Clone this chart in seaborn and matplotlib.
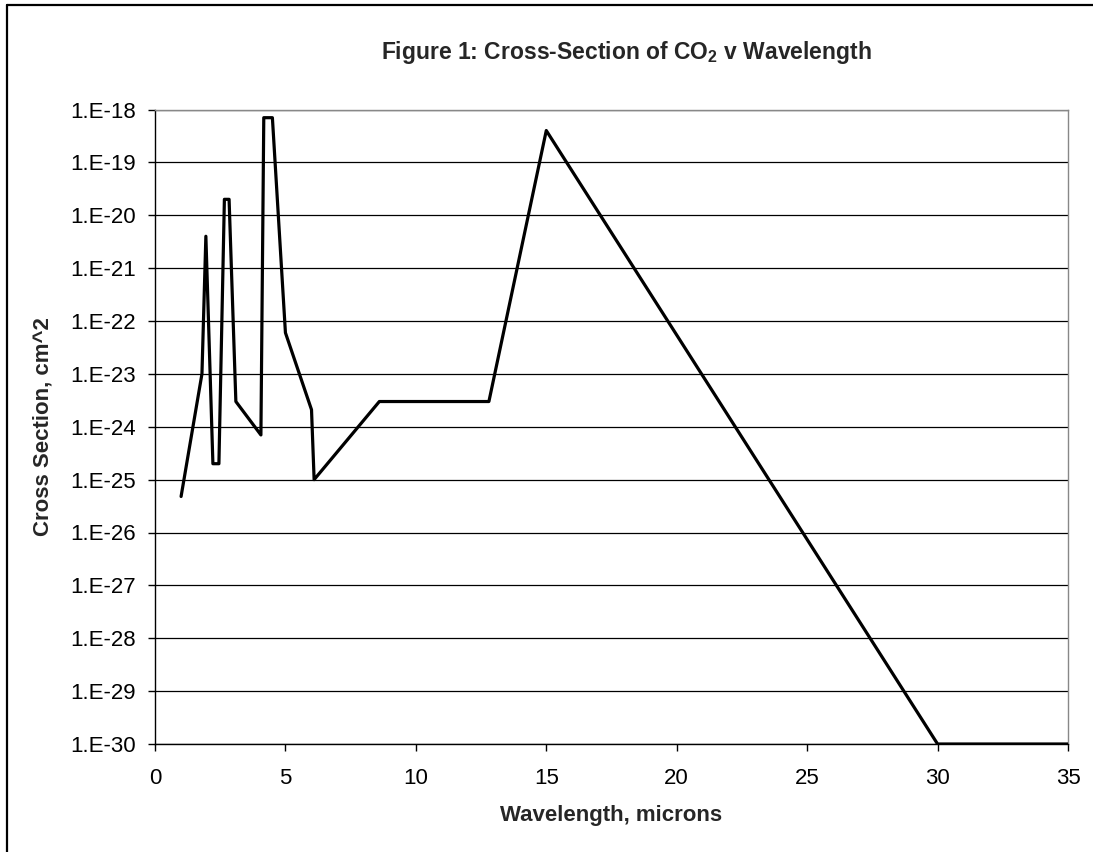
import math
import matplotlib
matplotlib.use("Agg")
import matplotlib.pyplot as plt
import seaborn as sns
import pandas as pd
from matplotlib.ticker import FixedLocator, FuncFormatter, NullLocator
from matplotlib.lines import Line2D

wavelength = [1.0, 1.8, 1.95, 2.22, 2.45, 2.66, 2.84, 3.1, 4.06, 4.17, 4.5,
              5.0, 6.0, 6.1, 8.6, 12.8, 15.0, 30.0, 35.0]
cross_section = [4.8e-26, 1e-23, 4e-21, 2e-25, 2e-25, 2e-20, 2e-20, 3e-24, 7e-25,
                 7e-19, 7e-19, 6e-23, 2.1e-24, 1e-25, 3e-24, 3e-24, 4e-19, 1e-30, 1e-30]
y_ticks = [10.0 ** e for e in range(-30, -17)]
x_ticks = [0, 5, 10, 15, 20, 25, 30, 35]

df = pd.DataFrame({"wavelength": wavelength, "cross_section": cross_section})

sns.set_theme(style="white")
plt.rcParams['font.family'] = ['Liberation Sans', 'DejaVu Sans']
plt.rcParams['mathtext.fontset'] = 'custom'
plt.rcParams['mathtext.bf'] = 'Liberation Sans:bold'

W, H = 1093, 852
fig = plt.figure(figsize=(W / 100, H / 100), dpi=100)
L, R, T, B = 155, 1068, 109.5, 744
ax = fig.add_axes([L / W, 1 - B / H, (R - L) / W, (B - T) / H])

ax.set_yscale("log")
for yv in y_ticks:
    ax.axhline(yv, color="black", lw=0.9, zorder=1)

sns.lineplot(data=df, x="wavelength", y="cross_section", sort=False, estimator=None,
             color="black", lw=2.3, ax=ax, zorder=3)

ax.set_xlim(0, 35)
ax.set_ylim(1e-30, 1e-18)
ax.yaxis.set_major_locator(FixedLocator(y_ticks))
ax.yaxis.set_minor_locator(NullLocator())
ax.yaxis.set_major_formatter(FuncFormatter(lambda v, p: "1.E%d" % round(math.log10(v))))
ax.xaxis.set_major_locator(FixedLocator(x_ticks))
ax.tick_params(axis="both", which="major", direction="out", length=5, width=1,
               color="black", labelsize=16, labelcolor="black")
ax.tick_params(axis="y", left=True, pad=9)
ax.tick_params(axis="x", bottom=True, pad=12)

ax.set_xlabel("Wavelength, microns", fontsize=16, fontweight="bold")
ax.set_ylabel("Cross Section, cm^2", fontsize=16, fontweight="bold")
ax.xaxis.set_label_coords((611 - L) / (R - L), (B - 815) / (B - T))
ax.xaxis.label.set_va("center")
ax.yaxis.set_label_coords((43 - L) / (R - L), 0.5)
ax.yaxis.label.set_va("center")

for side in ["left", "bottom"]:
    ax.spines[side].set_color("black")
    ax.spines[side].set_linewidth(1.0)
for side in ["top", "right"]:
    ax.spines[side].set_color("#888888")
    ax.spines[side].set_linewidth(1.0)

fig.text(626 / W, 1 - 53 / H, r"Figure 1: Cross-Section of CO$_\mathbf{2}$ v Wavelength",
         ha="center", va="center", fontsize=16.5, fontweight="bold")

fig.add_artist(Line2D([7 / W, 1], [1 - 5 / H, 1 - 5 / H], transform=fig.transFigure,
                      color="black", lw=1.6))
fig.add_artist(Line2D([7 / W, 7 / W], [0, 1 - 5 / H], transform=fig.transFigure,
                      color="black", lw=1.6))

fig.savefig("out.png", dpi=100, facecolor="white")
